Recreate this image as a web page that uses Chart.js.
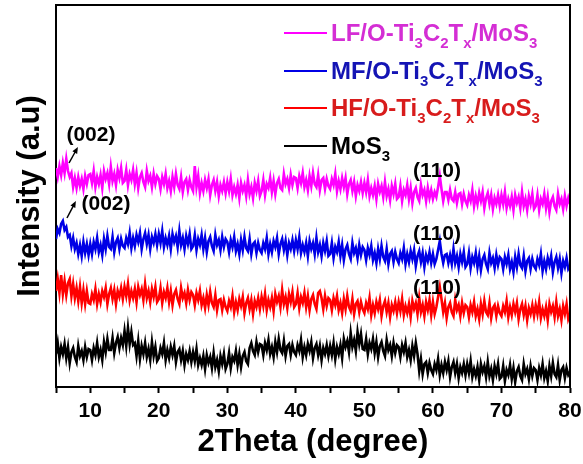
<!DOCTYPE html>
<html>
<head>
<meta charset="utf-8">
<script src="https://cdn.jsdelivr.net/npm/chart.js@4.4.1/dist/chart.umd.min.js"></script>
<style>
  html, body { margin: 0; padding: 0; background: #fff; }
  #wrap { width: 583px; height: 464px; position: relative; }
</style>
</head>
<body>
<div id="wrap"><canvas id="xrd"></canvas></div>
<script>
// XRD scan: 2θ from 5° to 80° in 0.25° steps (stacked, offset patterns, arbitrary units)
const scanStart = 5;
const scanStep = 0.25;

const lfIntensity = [
  219,210,221,212, 224,214,228,216, 210,214,200,209, 199,210,201,208, 198,211,203,212,
  213,204,216,200, 210,203,212,199, 216,208,214,203, 220,206,213,202, 217,209,219,204,
  206,217,202,213, 207,217,203,214, 199,210,214,205, 200,216,206,211, 200,213,203,211,
  208,198,210,203, 213,199,206,196, 210,200,213,202, 198,210,195,205, 208,197,207,200,
  196,221,200,211, 194,204,196,207, 199,208,192,202, 207,196,205,191, 202,196,205,194,
  205,196,208,192, 200,193,202,189, 204,196,202,191, 207,193,200,189, 204,196,206,191,
  196,207,192,203, 199,209,195,206, 193,204,208,199, 197,213,203,208, 199,212,202,210,
  209,199,211,204, 214,200,207,197, 211,201,214,203, 200,212,197,207, 209,198,208,201,
  198,208,202,213, 196,206,198,209, 200,209,193,203, 207,196,205,191, 202,196,205,194,
  204,195,207,191, 199,192,201,188, 203,195,201,190, 205,191,198,187, 201,193,203,188,
  190,201,186,197, 192,202,188,199, 184,195,199,190, 186,202,192,197, 186,199,189,197,
  188,195,190,200, 211,198,186,195, 195,187,197,188, 186,195,184,193, 194,183,193,186,
  182,192,186,197, 181,191,183,194, 186,195,179,189, 194,183,192,178, 189,183,192,181,
  192,183,195,179, 188,181,190,177, 192,184,190,179, 195,181,188,177, 191,183,193,178,
  181,192,177,188, 183,193,179,190, 175,186,190,181, 177,193,183,188, 178,191,181,189,
  183
];

const mfIntensity = [
  148,158,154,163, 166,157,160,150, 152,141,149,138, 144,133,142,131, 145,134,143,132,
  143,133,145,138, 149,135,142,132, 148,138,151,140, 138,150,135,145, 149,138,148,141,
  139,149,143,154, 139,149,141,152, 145,154,138,148, 154,143,152,138, 150,144,153,142,
  153,144,156,140, 149,142,151,138, 153,145,151,140, 156,142,149,138, 151,143,153,138,
  141,152,137,148, 142,152,138,149, 135,146,150,141, 136,152,142,147, 137,150,140,148,
  145,135,147,140, 150,136,143,133, 147,137,150,139, 136,148,133,143, 145,134,144,137,
  134,144,138,149, 133,143,135,146, 140,149,133,143, 148,137,146,132, 144,138,147,136,
  147,138,150,134, 142,135,144,131, 146,138,144,133, 149,135,142,131, 144,136,146,131,
  133,144,129,140, 135,145,131,142, 127,138,142,133, 128,144,134,139, 129,142,132,140,
  137,127,139,132, 141,127,134,124, 138,128,141,130, 126,138,123,133, 136,125,135,128,
  124,134,128,139, 123,133,125,136, 128,137,121,131, 136,125,134,120, 132,126,135,124,
  133,123,128,137, 146,133,124,132, 133,124,132,123, 138,124,131,120, 133,125,135,120,
  123,134,119,130, 124,134,120,131, 117,128,132,123, 118,134,124,129, 119,132,122,130,
  128,118,130,123, 132,118,125,115, 130,120,133,122, 119,131,116,126, 129,118,128,121,
  118,128,122,133, 116,126,118,129, 122,131,115,125, 130,119,128,114, 126,120,129,118,
  121
];

const hfIntensity = [
  96,108,94,112, 93,106,92,104, 108,91,103,89, 99,86,100,84, 97,83,96,84,
  83,93,87,98, 83,93,85,96, 90,99,83,93, 99,88,97,83, 96,90,99,88,
  100,91,103,87, 96,89,98,85, 100,92,98,87, 103,89,96,85, 98,90,100,85,
  88,99,84,95, 89,99,85,96, 82,93,97,88, 83,99,89,94, 84,97,87,95,
  92,82,94,87, 96,82,89,79, 92,82,95,84, 80,92,77,87, 88,77,87,80,
  76,86,80,91, 75,85,77,88, 81,90,74,84, 89,78,87,73, 86,80,89,78,
  90,81,93,77, 87,80,89,76, 93,85,91,80, 97,83,90,79, 93,85,95,80,
  83,94,79,90, 84,94,80,91, 77,88,92,83, 78,94,96,89, 78,91,81,89,
  87,77,89,82, 91,77,84,74, 88,78,91,80, 76,88,73,83, 86,75,85,78,
  74,84,78,89, 72,82,74,85, 78,87,71,81, 86,75,84,70, 82,76,85,74,
  85,76,88,72, 81,74,83,70, 86,78,84,73, 89,75,82,71, 85,77,87,72,
  85,73,80,90, 100,88,75,84, 69,80,84,75, 71,87,77,82, 71,84,74,82,
  80,70,82,75, 85,71,78,68, 83,73,86,75, 72,84,69,79, 82,71,81,74,
  71,81,75,86, 70,80,72,83, 75,84,68,78, 83,72,81,67, 79,73,82,71,
  82,73,85,69, 78,71,80,67, 83,75,81,70, 85,71,78,67, 81,73,83,68,
  73
];

const mos3Intensity = [
  33,44,29,40, 33,43,29,40, 24,35,39,30, 25,41,31,36, 27,40,30,38,
  37,27,39,32, 44,30,37,27, 45,35,48,37, 37,49,34,44, 50,39,49,42,
  56,41,59,43, 55,42,44,31, 46,28,41,33, 44,30,38,27, 45,31,40,26,
  29,39,33,44, 27,37,29,40, 32,41,25,35, 38,27,36,22, 33,27,36,25,
  35,26,38,22, 29,22,31,18, 32,24,30,19, 34,20,27,16, 31,23,33,18,
  23,34,19,30, 26,36,22,33, 20,31,35,26, 23,39,44,36, 32,45,35,43,
  42,32,44,37, 47,33,40,30, 45,35,48,37, 34,46,31,41, 43,32,42,35,
  32,42,36,47, 30,40,32,43, 36,45,29,39, 43,32,41,27, 39,33,42,31,
  41,32,44,28, 40,33,42,29, 48,40,46,35, 54,40,47,36, 55,43,53,38,
  37,48,33,44, 38,48,34,45, 30,41,45,36, 31,47,37,42, 31,44,34,42,
  40,30,42,35, 44,30,37,27, 41,31,44,33, 16,28,13,23, 25,14,24,17,
  13,23,17,28, 12,22,14,25, 17,26,10,20, 25,14,23,9, 20,14,23,12,
  23,14,26,10, 18,11,20,7, 23,15,21,10, 25,11,18,7, 21,13,23,8,
  10,21,6,17, 12,22,8,19, 5,16,20,11, 7,23,13,18, 8,21,11,19,
  17,7,19,12, 23,9,16,6, 21,11,24,13, 10,22,7,17, 20,9,19,12,
  15
];

// Sample names ("_" marks a one-character subscript)
const sampleNames = ['LF/O-Ti_3C_2T_x/MoS_3', 'MF/O-Ti_3C_2T_x/MoS_3', 'HF/O-Ti_3C_2T_x/MoS_3', 'MoS_3'];
const lineColors = ['#ff00ff', '#0000e6', '#ff0000', '#000000'];
const textColors = ['#d42ed4', '#1414b4', '#d81c1c', '#000000'];
const seriesValues = [lfIntensity, mfIntensity, hfIntensity, mos3Intensity];

// Reflection labels: text, label position (2θ, intensity), optional arrow from/to
const reflections = [
  { text: '(002)', x: 10.1, y: 252, arrow: [6.9, 224, 8.2, 240] },
  { text: '(002)', x: 12.3, y: 183, arrow: [6.6, 169, 7.9, 186] },
  { text: '(110)', x: 60.6, y: 216 },
  { text: '(110)', x: 60.6, y: 153 },
  { text: '(110)', x: 60.6, y: 99 }
];

const xTickStep = 5;
const FONT = "'Liberation Sans', Arial, sans-serif";

const twoTheta = lfIntensity.map((_, i) => scanStart + i * scanStep);

function drawRich(ctx, str, x, baseY, size, subSize, color) {
  ctx.fillStyle = color;
  ctx.textAlign = 'left';
  ctx.textBaseline = 'alphabetic';
  let i = 0;
  while (i < str.length) {
    if (str[i] === '_' && i + 1 < str.length) {
      ctx.font = `bold ${subSize}px ${FONT}`;
      ctx.fillText(str[i + 1], x, baseY + 7);
      x += ctx.measureText(str[i + 1]).width;
      i += 2;
    } else {
      let j = i;
      while (j < str.length && str[j] !== '_') j++;
      const seg = str.slice(i, j);
      ctx.font = `bold ${size}px ${FONT}`;
      ctx.fillText(seg, x, baseY);
      x += ctx.measureText(seg).width;
      i = j;
    }
  }
}

const framePlugin = {
  id: 'frame',
  afterDatasetsDraw(chart) {
    const { ctx, chartArea: a } = chart;
    ctx.save();
    ctx.strokeStyle = '#000';
    ctx.lineWidth = 2;
    ctx.beginPath();
    ctx.moveTo(a.left, a.top);
    ctx.lineTo(a.right, a.top);
    ctx.lineTo(a.right, a.bottom);
    ctx.stroke();
    ctx.restore();
  }
};

const sampleLegend = {
  id: 'sampleLegend',
  afterDraw(chart) {
    const { ctx } = chart;
    const rows = [33, 71, 108, 146];
    ctx.save();
    sampleNames.forEach((name, k) => {
      const y = rows[k];
      ctx.strokeStyle = lineColors[k];
      ctx.lineWidth = 2;
      ctx.beginPath();
      ctx.moveTo(284, y);
      ctx.lineTo(327, y);
      ctx.stroke();
      drawRich(ctx, name, 331, y + 8, 24, 15, textColors[k]);
    });
    ctx.restore();
  }
};

const reflectionLabels = {
  id: 'reflectionLabels',
  afterDraw(chart) {
    const { ctx, scales: { x, y } } = chart;
    ctx.save();
    ctx.fillStyle = '#000';
    ctx.strokeStyle = '#000';
    ctx.font = `bold 21px ${FONT}`;
    ctx.textAlign = 'center';
    ctx.textBaseline = 'middle';
    reflections.forEach(r => {
      ctx.fillText(r.text, x.getPixelForValue(r.x), y.getPixelForValue(r.y));
      if (r.arrow) {
        const x0 = x.getPixelForValue(r.arrow[0]), y0 = y.getPixelForValue(r.arrow[1]);
        const x1 = x.getPixelForValue(r.arrow[2]), y1 = y.getPixelForValue(r.arrow[3]);
        const ang = Math.atan2(y1 - y0, x1 - x0);
        ctx.lineWidth = 1.5;
        ctx.beginPath();
        ctx.moveTo(x0, y0);
        ctx.lineTo(x1 - 4 * Math.cos(ang), y1 - 4 * Math.sin(ang));
        ctx.stroke();
        ctx.beginPath();
        ctx.moveTo(x1, y1);
        ctx.lineTo(x1 - 7 * Math.cos(ang - 0.4), y1 - 7 * Math.sin(ang - 0.4));
        ctx.lineTo(x1 - 7 * Math.cos(ang + 0.4), y1 - 7 * Math.sin(ang + 0.4));
        ctx.closePath();
        ctx.fill();
      }
    });
    ctx.restore();
  }
};

new Chart(document.getElementById('xrd'), {
  type: 'line',
  data: {
    datasets: seriesValues.map((vals, k) => ({
      label: sampleNames[k],
      data: vals.map((v, i) => ({ x: twoTheta[i], y: v })),
      borderColor: lineColors[k],
      borderWidth: 2.6,
      pointRadius: 0,
      tension: 0,
      fill: false
    }))
  },
  options: {
    responsive: true,
    maintainAspectRatio: false,
    animation: false,
    devicePixelRatio: 1,
    layout: { padding: { top: 5, right: 13, left: 0, bottom: 0 } },
    plugins: { legend: { display: false }, tooltip: { enabled: false } },
    scales: {
      x: {
        type: 'linear',
        min: 5,
        max: 80,
        afterFit: s => { s.height = 77; s.paddingLeft = 0; s.paddingRight = 0; },
        ticks: {
          stepSize: xTickStep,
          autoSkip: false,
          maxRotation: 0,
          padding: 6,
          color: '#000',
          font: { family: FONT, size: 21, weight: 'bold' },
          callback: v => (v % 10 === 0 ? String(v) : '')
        },
        grid: { drawOnChartArea: false, tickLength: 6, tickWidth: 2, color: '#000' },
        border: { color: '#000', width: 2 },
        title: {
          display: true,
          text: '2Theta (degree)',
          color: '#000',
          font: { family: FONT, size: 31, weight: 'bold' },
          padding: { top: 0, bottom: 3 }
        }
      },
      y: {
        type: 'linear',
        min: 0,
        max: 382,
        afterFit: s => { s.width = 56; s.paddingTop = 0; s.paddingBottom = 0; },
        ticks: { display: false },
        grid: { display: false, drawTicks: false },
        border: { color: '#000', width: 2 },
        title: {
          display: true,
          text: 'Intensity (a.u)',
          color: '#000',
          font: { family: FONT, size: 31, weight: 'bold' },
          padding: { top: 12, bottom: 0 }
        }
      }
    }
  },
  plugins: [framePlugin, sampleLegend, reflectionLabels]
});
</script>
</body>
</html>
